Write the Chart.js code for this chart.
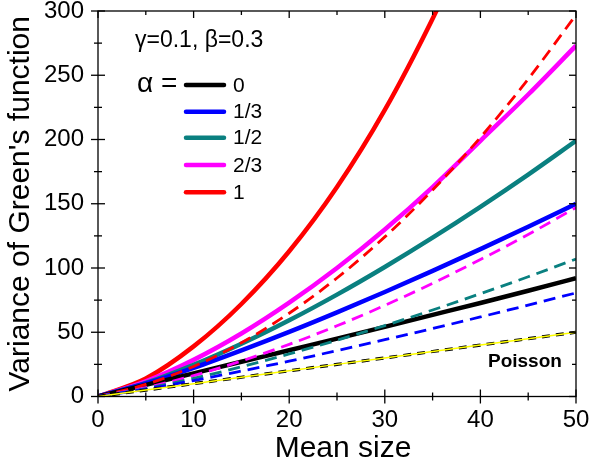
<!DOCTYPE html>
<html>
<head>
<meta charset="utf-8">
<script src="https://cdn.jsdelivr.net/npm/chart.js@4.4.1/dist/chart.umd.min.js"></script>
<style>
  html, body { margin:0; padding:0; background:#fff; }
  #wrap { width:589px; height:465px; }
</style>
</head>
<body>
<div id="wrap"><canvas id="c1" width="589" height="465"></canvas></div>
<script>
    const FONT = "'Liberation Sans', Arial, sans-serif";

    // mean size (x) and read-off variances
    const MEAN = [0, 5, 10, 15, 20, 25, 30, 35, 40, 45, 50];
    const POISSON = [0, 5, 10, 15, 20, 25, 30, 35, 40, 45, 50];
    const SOLID_0  = [0, 9, 18, 27, 36, 45, 54.2, 63.5, 72.8, 82.3, 92];
    const SOLID_13 = [0, 10.1, 22.3, 35.9, 50.3, 65.5, 81.3, 97.8, 114.7, 132.1, 150];
    const SOLID_12 = [0, 10.5, 24.6, 41, 59.3, 79.3, 100.8, 123.6, 147.6, 172.7, 199];
    const SOLID_23 = [0, 11.8, 28.5, 49, 73, 100, 130, 163, 199, 235, 273];
    const SOLID_1  = [0, 14, 39, 72, 113, 163, 223, 294, 374];
    const DASH_13 = [0, 5.7, 12.4, 19.8, 27.5, 35.7, 44.2, 52.9, 61.9, 71.1, 80.6];
    const DASH_12 = [0, 6.2, 14.1, 23.1, 33.1, 43.8, 55.2, 67.3, 80, 93.2, 107];
    const DASH_23 = [0, 6.9, 16.3, 27.6, 40.6, 55, 70.9, 88.1, 106.6, 126.1, 147];
    const DASH_1  = [0, 9.4, 23.4, 41.8, 64.8, 92.2, 124.2, 160.7, 201.6, 247.1, 297];

    const ALPHA_LABELS = ['0', '1/3', '1/2', '2/3', '1'];
    const X_TICKS = [0, 10, 20, 30, 40, 50];
    const Y_TICKS = [0, 50, 100, 150, 200, 250, 300];

    const C_BLACK = '#000000', C_BLUE = '#0000ff', C_TEAL = '#0a8080', C_MAG = '#ff00ff', C_RED = '#ff0000', C_YEL = '#ffff00';
    const ALPHA_COLORS = [C_BLACK, C_BLUE, C_TEAL, C_MAG, C_RED];

    const pts = (ys) => ys.map((v, i) => ({x: MEAN[i], y: v}));

    function solid(data, col, ord) {
        return {data: pts(data), borderColor: col, borderWidth: 4.5, pointRadius: 0, cubicInterpolationMode: 'monotone', order: ord};
    }
    function dashed(data, col, ord) {
        return {data: pts(data), borderColor: col, borderWidth: 2.8, borderDash: [12, 7], pointRadius: 0, cubicInterpolationMode: 'monotone', order: ord};
    }
    function noPad(s) { s.paddingTop = 0; s.paddingBottom = 0; s.paddingLeft = 0; s.paddingRight = 0; }

    // inward ticks + frame
    const frameTicks = {
        id: 'frameTicks',
        afterDraw(chart) {
            const {ctx, chartArea: a, scales: {x, y}} = chart;
            ctx.save();
            ctx.strokeStyle = '#000'; ctx.lineWidth = 1.3;
            const ln = (x1, y1, x2, y2) => { ctx.beginPath(); ctx.moveTo(x1, y1); ctx.lineTo(x2, y2); ctx.stroke(); };
            for (let v = 0; v <= 50; v += 5) {
                let px = x.getPixelForValue(v);
                let L = X_TICKS.includes(v) ? 7 : 4;
                ln(px, a.bottom - L, px, a.bottom + L);
                ln(px, a.top, px, a.top + L);
            }
            for (let v = 0; v <= 300; v += 25) {
                let py = y.getPixelForValue(v);
                let L = Y_TICKS.includes(v) ? 7 : 4;
                ln(a.left - L, py, a.left + L, py);
                ln(a.right - L, py, a.right, py);
            }
            ctx.strokeRect(a.left, a.top, a.right - a.left, a.bottom - a.top);
            ctx.restore();
        }
    };

    // annotation legend + x title
    const keyBox = {
        id: 'keyBox',
        afterDraw(chart) {
            const ctx = chart.ctx;
            ctx.save();
            ctx.fillStyle = '#000';
            ctx.textBaseline = 'alphabetic';
            ctx.font = '23px ' + FONT;
            ctx.fillText('\u03b3=0.1, \u03b2=0.3', 135, 47);
            ctx.font = '28px ' + FONT;
            ctx.fillText('\u03b1 =', 137, 92);
            const rows = [85, 111.7, 137.7, 165, 192.3];
            ctx.lineCap = 'round'; ctx.lineWidth = 4.5;
            ALPHA_LABELS.forEach((lab, i) => {
                ctx.strokeStyle = ALPHA_COLORS[i];
                ctx.beginPath(); ctx.moveTo(186, rows[i]); ctx.lineTo(224, rows[i]); ctx.stroke();
                ctx.font = '21px ' + FONT;
                ctx.fillText(lab, 233, rows[i] + 6.5);
            });
            ctx.font = 'bold 19px ' + FONT;
            ctx.fillText('Poisson', 488, 366.5);
            ctx.font = '30px ' + FONT;
            ctx.textAlign = 'center';
            ctx.fillText('Mean size', 343, 456.5);
            ctx.restore();
        }
    };

    function setup() {
        Chart.defaults.font.family = FONT;
        Chart.defaults.color = '#000';

        new Chart(document.getElementById('c1').getContext('2d'), {
            type: 'line',
            data: {
                datasets: [
                    {data: pts(POISSON), borderColor: C_YEL, borderWidth: 1.5, pointRadius: 0, order: 0},
                    {data: pts(POISSON), borderColor: C_BLACK, borderWidth: 3.2, borderDash: [8, 6], pointRadius: 0, order: 1},
                    dashed(DASH_13, C_BLUE, 2),
                    dashed(DASH_12, C_TEAL, 3),
                    dashed(DASH_23, C_MAG, 4),
                    dashed(DASH_1, C_RED, 5),
                    solid(SOLID_0, C_BLACK, 6),
                    solid(SOLID_13, C_BLUE, 7),
                    solid(SOLID_12, C_TEAL, 8),
                    solid(SOLID_23, C_MAG, 9),
                    solid(SOLID_1, C_RED, 10)
                ]
            },
            options: {
                responsive: false, animation: false, devicePixelRatio: 1,
                layout: {padding: {top: 11, right: 13, left: 0, bottom: 0}},
                plugins: {legend: {display: false}, tooltip: {enabled: false}},
                scales: {
                    x: {
                        type: 'linear', min: 0, max: 50,
                        afterBuildTicks: s => { s.ticks = X_TICKS.map(v => ({value: v})); },
                        afterFit: s => { s.height = 68.5; noPad(s); },
                        grid: {display: false, drawTicks: false}, border: {display: false},
                        ticks: {font: {size: 24}, color: '#000', padding: 9, maxRotation: 0},
                        title: {display: false, text: 'Mean size'}
                    },
                    y: {
                        type: 'linear', min: 0, max: 300,
                        afterBuildTicks: s => { s.ticks = Y_TICKS.map(v => ({value: v})); },
                        afterFit: s => { s.width = 98; noPad(s); },
                        grid: {display: false, drawTicks: false}, border: {display: false},
                        ticks: {font: {size: 24}, color: '#000', padding: 14},
                        title: {display: true, text: "Variance of Green's function", font: {size: 30}, color: '#000', padding: {top: 3, bottom: 0}}
                    }
                }
            },
            plugins: [frameTicks, keyBox]
        });
    }

    document.addEventListener("DOMContentLoaded", setup);
</script>
</body>
</html>
